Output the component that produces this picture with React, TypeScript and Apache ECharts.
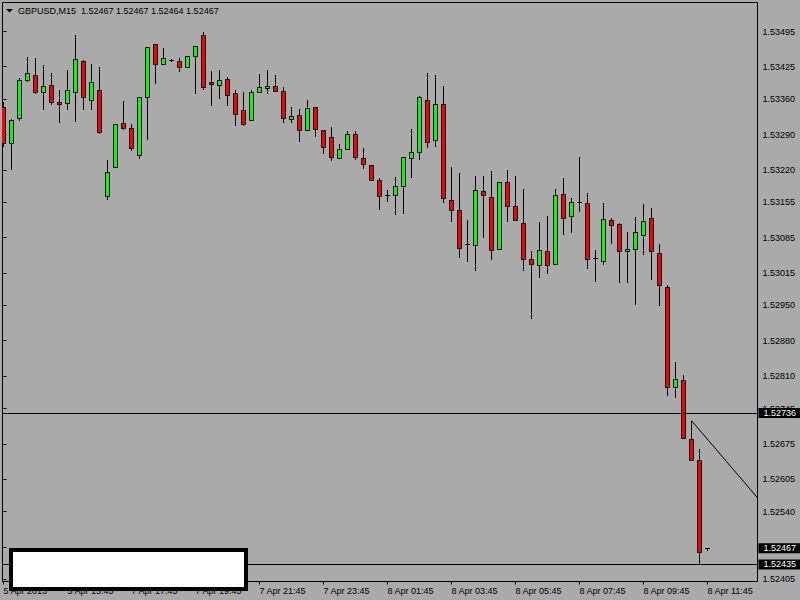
import React, { useEffect, useRef } from "react";
import * as echarts from "echarts";

const titleText = "GBPUSD,M15  1.52467 1.52467 1.52464 1.52467";

const opens = [
  1.53344, 1.53273, 1.53323, 1.53399, 1.53409, 1.53374, 1.53389, 1.53355, 1.53352, 1.53374,
  1.53437, 1.53359, 1.53379, 1.53168, 1.53226, 1.53313, 1.53303, 1.53249, 1.53364, 1.53471,
  1.53431, 1.53439, 1.53437, 1.53425, 1.53447, 1.53488, 1.53395, 1.53389, 1.53401, 1.53373,
  1.53339, 1.53319, 1.53375, 1.53383, 1.53387, 1.53377, 1.53321, 1.53329, 1.53299, 1.53345,
  1.53299, 1.53286, 1.53244, 1.53262, 1.53292, 1.53244, 1.5323, 1.532, 1.5317, 1.5317,
  1.53188, 1.53244, 1.53256, 1.53359, 1.5328, 1.53351, 1.5316, 1.5314, 1.53073, 1.53071,
  1.53178, 1.53166, 1.53063, 1.53196, 1.53148, 1.53115, 1.53043, 1.53031, 1.53059, 1.53033,
  1.53172, 1.53128, 1.53156, 1.53154, 1.53044, 1.53039, 1.53121, 1.53113, 1.53059, 1.53063,
  1.53091, 1.53125, 1.53055, 1.52987, 1.52788, 1.52802, 1.52685, 1.52643, 1.52467,
];
const closes = [
  1.53274, 1.53319, 1.53399, 1.53413, 1.53374, 1.53387, 1.53354, 1.5335, 1.53379, 1.53441,
  1.53364, 1.53395, 1.53295, 1.53216, 1.53311, 1.53303, 1.53263, 1.53365, 1.53465, 1.53431,
  1.53443, 1.53439, 1.53425, 1.53447, 1.53467, 1.53385, 1.53391, 1.53399, 1.53369, 1.53331,
  1.53311, 1.53375, 1.53385, 1.53387, 1.53377, 1.53323, 1.53327, 1.53299, 1.53343, 1.53301,
  1.53266, 1.53246, 1.53262, 1.53292, 1.53246, 1.53232, 1.532, 1.53168, 1.5317, 1.53188,
  1.53246, 1.53256, 1.53365, 1.53276, 1.53351, 1.53164, 1.5314, 1.53065, 1.53073, 1.5318,
  1.5317, 1.53061, 1.53196, 1.53148, 1.53121, 1.53043, 1.53033, 1.53061, 1.53031, 1.5317,
  1.53125, 1.53156, 1.53156, 1.53043, 1.53044, 1.53123, 1.53111, 1.53059, 1.53063, 1.53097,
  1.53119, 1.53059, 1.52991, 1.52788, 1.52804, 1.52687, 1.52643, 1.5246, 1.52467,
];
const lows = [
  1.53268, 1.53221, 1.53319, 1.53397, 1.53372, 1.5334, 1.5335, 1.53315, 1.5334, 1.53317,
  1.5334, 1.53341, 1.53294, 1.53162, 1.53225, 1.53301, 1.5326, 1.53243, 1.53281, 1.53392,
  1.53431, 1.53437, 1.53417, 1.53425, 1.53373, 1.53381, 1.53348, 1.53362, 1.53349, 1.53309,
  1.5331, 1.53319, 1.53375, 1.53373, 1.53377, 1.53315, 1.53315, 1.53278, 1.53299, 1.53288,
  1.53254, 1.5324, 1.53244, 1.53262, 1.53242, 1.53224, 1.532, 1.53142, 1.53158, 1.53132,
  1.53134, 1.53205, 1.53242, 1.53266, 1.53268, 1.53156, 1.53119, 1.53046, 1.53038, 1.53021,
  1.53086, 1.53042, 1.53063, 1.53119, 1.5312, 1.53021, 1.52926, 1.53007, 1.53015, 1.53033,
  1.53093, 1.53097, 1.53138, 1.53025, 1.52999, 1.53033, 1.53075, 1.52997, 1.52997, 1.52953,
  1.53053, 1.53003, 1.52951, 1.52772, 1.52768, 1.52687, 1.52643, 1.52435, 1.52464,
];
const highs = [
  1.53354, 1.5332, 1.53403, 1.53445, 1.53443, 1.53429, 1.53412, 1.53379, 1.53419, 1.53489,
  1.53438, 1.53431, 1.53425, 1.5324, 1.53311, 1.53356, 1.53311, 1.53365, 1.53465, 1.53471,
  1.53463, 1.53441, 1.53443, 1.53447, 1.53467, 1.53494, 1.53417, 1.53419, 1.53405, 1.53379,
  1.53375, 1.53379, 1.53411, 1.53419, 1.53409, 1.53385, 1.53345, 1.53341, 1.53359, 1.53345,
  1.53299, 1.53305, 1.53272, 1.53297, 1.53297, 1.53264, 1.5323, 1.53204, 1.5318, 1.53206,
  1.53246, 1.53301, 1.53367, 1.53413, 1.53409, 1.53387, 1.53226, 1.53214, 1.53121, 1.53208,
  1.53208, 1.53218, 1.53196, 1.5322, 1.53207, 1.53182, 1.53059, 1.53117, 1.53128, 1.53182,
  1.53204, 1.53164, 1.53246, 1.53174, 1.53061, 1.53154, 1.53125, 1.53115, 1.53097, 1.53127,
  1.53152, 1.53144, 1.53073, 1.52991, 1.52837, 1.52812, 1.52721, 1.52665, 1.52467,
];

const xTickIndex = [0, 8, 16, 24, 32, 40, 48, 56, 64, 72, 80, 88];
const xTickLabels = [
  "5 Apr 2013", "5 Apr 15:45", "7 Apr 17:45", "7 Apr 19:45", "7 Apr 21:45", "7 Apr 23:45",
  "8 Apr 01:45", "8 Apr 03:45", "8 Apr 05:45", "8 Apr 07:45", "8 Apr 09:45", "8 Apr 11:45",
];
const yTickValues = [
  1.53495, 1.53425, 1.5336, 1.5329, 1.5322, 1.53155, 1.53085, 1.53015, 1.5295, 1.5288,
  1.5281, 1.52745, 1.52675, 1.52605, 1.5254, 1.5247, 1.52405,
];
const hLineLevels = [1.52736, 1.52435];
const bidPrice = 1.52467;
const trendLine = [
  [86, 1.52721],
  [96, 1.52535],
];

const FONT = "Liberation Sans";
const BG = "#AAAAAA";

export default function App() {
  const ref = useRef<HTMLDivElement>(null);
  useEffect(() => {
    const chart = echarts.init(ref.current!, null, { renderer: "svg" });
    const candleData = opens.map((o, i) => [i, o, closes[i], lows[i], highs[i]]);
    const priceLabel = {
      show: true,
      position: "end",
      distance: 1,
      formatter: (p: any) => Number(p.value).toFixed(5),
      backgroundColor: "#000",
      color: "#fff",
      padding: [1, 6, 0, 5],
      fontSize: 9,
      lineHeight: 9,
      fontFamily: FONT,
    };
    const option: any = {
      animation: false,
      backgroundColor: BG,
      grid: {
        left: 2.5,
        top: 2.5,
        right: 42.5,
        bottom: 18.5,
        show: true,
        borderColor: "#000",
        borderWidth: 1,
        backgroundColor: "transparent",
      },
      xAxis: {
        type: "value",
        min: -0.125,
        max: 94.25,
        position: "bottom",
        axisLine: { show: false },
        splitLine: { show: false },
        axisTick: {
          show: true,
          customValues: xTickIndex,
          length: 3,
          lineStyle: { color: "#000", width: 1 },
        },
        axisLabel: {
          customValues: xTickIndex,
          formatter: (v: number) => xTickLabels[xTickIndex.indexOf(Math.round(v))] ?? "",
          align: "left",
          margin: 5,
          color: "#000",
          fontSize: 9,
          fontFamily: FONT,
        },
      },
      yAxis: {
        type: "value",
        position: "right",
        min: 1.52401,
        max: 1.535527,
        axisLine: { show: false },
        splitLine: { show: false },
        axisTick: {
          show: true,
          customValues: yTickValues,
          length: 3,
          lineStyle: { color: "#000", width: 1 },
        },
        axisLabel: {
          customValues: yTickValues,
          formatter: (v: number) => v.toFixed(5),
          margin: 5,
          color: "#000",
          fontSize: 9,
          fontFamily: FONT,
        },
      },
      series: [
        {
          type: "custom",
          clip: true,
          silent: true,
          encode: { x: 0, y: [1, 2, 3, 4] },
          data: candleData,
          renderItem: (params: any, api: any) => {
            const i = api.value(0);
            const o = api.value(1);
            const c = api.value(2);
            const l = api.value(3);
            const h = api.value(4);
            const pO = api.coord([i, o]);
            const pC = api.coord([i, c]);
            const pL = api.coord([i, l]);
            const pH = api.coord([i, h]);
            const x = Math.floor(pO[0]) + 0.5;
            const children: any[] = [
              {
                type: "line",
                shape: { x1: x, y1: Math.round(pH[1]), x2: x, y2: Math.round(pL[1]) + 1 },
                style: { stroke: "#000", lineWidth: 1 },
              },
            ];
            const top = Math.round(Math.min(pO[1], pC[1])) + 0.5;
            const bot = Math.round(Math.max(pO[1], pC[1])) + 0.5;
            if (bot - top < 1) {
              children.push({
                type: "line",
                shape: { x1: x - 2.5, y1: top, x2: x + 2.5, y2: top },
                style: { stroke: "#000", lineWidth: 1 },
              });
            } else {
              children.push({
                type: "rect",
                shape: { x: x - 2, y: top, width: 4, height: bot - top },
                style: { fill: c > o ? "#00FF00" : "#FF0000", stroke: "#000", lineWidth: 1 },
              });
            }
            return { type: "group", children };
          },
          z: 2,
        },
        {
          type: "line",
          data: trendLine,
          showSymbol: false,
          symbol: "none",
          clip: true,
          silent: true,
          lineStyle: { color: "#000", width: 1 },
          z: 3,
          markLine: {
            silent: true,
            precision: 5,
            symbol: ["none", "none"],
            lineStyle: { color: "#000", width: 1, type: "solid" },
            label: priceLabel,
            data: hLineLevels.map((v) => ({ yAxis: v })),
          },
        },
        {
          type: "line",
          data: [],
          silent: true,
          z: 3,
          markLine: {
            silent: true,
            precision: 5,
            symbol: ["none", "none"],
            lineStyle: { color: "rgba(0,0,0,0)", width: 1, type: "solid" },
            label: priceLabel,
            data: [{ yAxis: bidPrice }],
          },
        },
      ],
      graphic: [
        {
          type: "polygon",
          shape: { points: [[6, 9], [13, 9], [9.5, 12.5]] },
          style: { fill: "#000" },
          z: 100,
        },
        {
          type: "text",
          x: 18,
          y: 11,
          style: {
            text: titleText,
            fill: "#000",
            fontSize: 9,
            fontFamily: FONT,
            verticalAlign: "middle",
          },
          z: 100,
        },
        {
          type: "rect",
          shape: { x: 11, y: 550, width: 235, height: 39 },
          style: { fill: "#fff", stroke: "#000", lineWidth: 4 },
          z: 100,
        },
      ],
    };
    chart.setOption(option);
    return () => chart.dispose();
  }, []);
  return (
    <div
      ref={ref}
      style={{ position: "fixed", left: 0, top: 0, width: 800, height: 600 }}
    />
  );
}
